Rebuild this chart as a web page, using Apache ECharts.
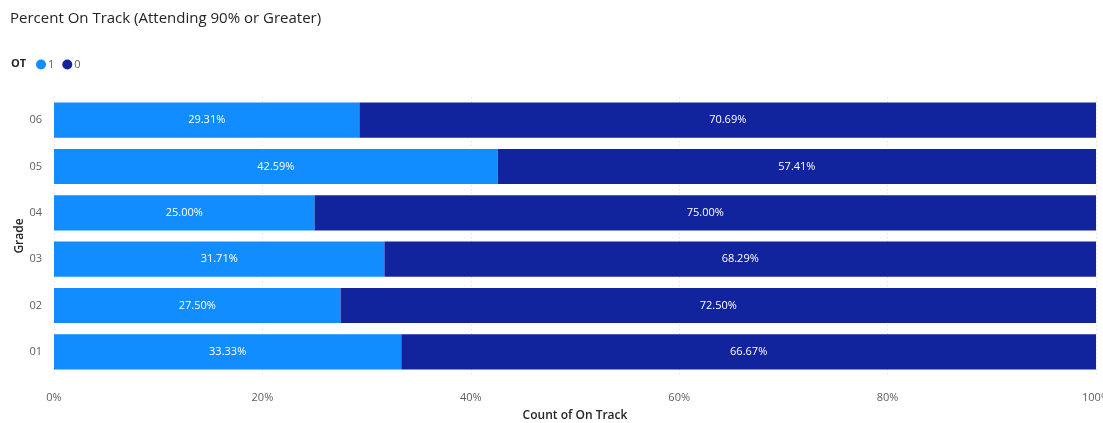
<!DOCTYPE html>
<html>
<head>
<meta charset="utf-8">
<script src="https://cdn.jsdelivr.net/npm/echarts@6/dist/echarts.min.js"></script>
<style>
  html, body { margin: 0; padding: 0; background: #fff; }
  #chart { width: 1103px; height: 423px; }
</style>
</head>
<body>
<div id="chart"></div>
<script>
// Grades listed bottom-to-top on the category axis
const grades = ['01', '02', '03', '04', '05', '06'];
// Share of students on track (OT = 1) and not on track (OT = 0), in percent
const onTrack = [33.33, 27.50, 31.71, 25.00, 42.59, 29.31];
const offTrack = [66.67, 72.50, 68.29, 75.00, 57.41, 70.69];
const xTicks = [0, 20, 40, 60, 80, 100];

const FONT = '"Open Sans", "Noto Sans", sans-serif';
const chart = echarts.init(document.getElementById('chart'), null, { renderer: 'canvas' });

const barLabel = {
  show: true,
  position: 'inside',
  color: '#ffffff',
  fontFamily: FONT,
  fontSize: 11,
  formatter: p => p.value.toFixed(2) + '%'
};

chart.setOption({
  animation: false,
  title: {
    text: 'Percent On Track (Attending 90% or Greater)',
    left: 5, top: 6,
    textStyle: { fontFamily: FONT, fontSize: 15, fontWeight: 'normal', color: '#252423' }
  },
  graphic: [{
    type: 'text', left: 11, top: 58,
    style: { text: 'OT', font: 'bold 11px ' + FONT, fill: '#252423' }
  }],
  legend: {
    left: 31, top: 54,
    itemWidth: 10, itemHeight: 10, itemGap: 8,
    icon: 'circle',
    textStyle: { fontFamily: FONT, fontSize: 11, color: '#605E5C', padding: [0, 0, 0, -3] },
    data: ['1', '0']
  },
  grid: { left: 54, right: 7, top: 97, bottom: 48, containLabel: false, outerBoundsMode: 'none' },
  xAxis: {
    type: 'value', min: 0, max: 100, interval: 20,
    name: 'Count of On Track', nameLocation: 'middle', nameGap: 35,
    nameTextStyle: { fontFamily: FONT, fontSize: 12, fontWeight: 600, color: '#252423' },
    axisLine: { show: false }, axisTick: { show: false },
    axisLabel: {
      fontFamily: FONT, fontSize: 11, color: '#605E5C', margin: 17,
      formatter: v => xTicks.includes(v) ? v + '%' : ''
    },
    splitLine: { show: true, lineStyle: { color: '#D9D9D9', type: [1, 3], width: 1 } }
  },
  yAxis: {
    type: 'category', data: grades,
    name: 'Grade', nameLocation: 'middle', nameGap: 28, nameRotate: 90,
    nameMoveOverlap: false,
    nameTextStyle: { fontFamily: FONT, fontSize: 12, fontWeight: 600, color: '#252423' },
    axisLine: { show: false }, axisTick: { show: false },
    axisLabel: { fontFamily: FONT, fontSize: 11, color: '#605E5C', margin: 12 }
  },
  series: [
    {
      name: '1', type: 'bar', stack: 'ot', data: onTrack,
      barCategoryGap: '24%',
      itemStyle: { color: '#118DFF' },
      label: barLabel
    },
    {
      name: '0', type: 'bar', stack: 'ot', data: offTrack,
      barCategoryGap: '24%',
      itemStyle: { color: '#12239E' },
      label: barLabel
    }
  ]
});
</script>
</body>
</html>
